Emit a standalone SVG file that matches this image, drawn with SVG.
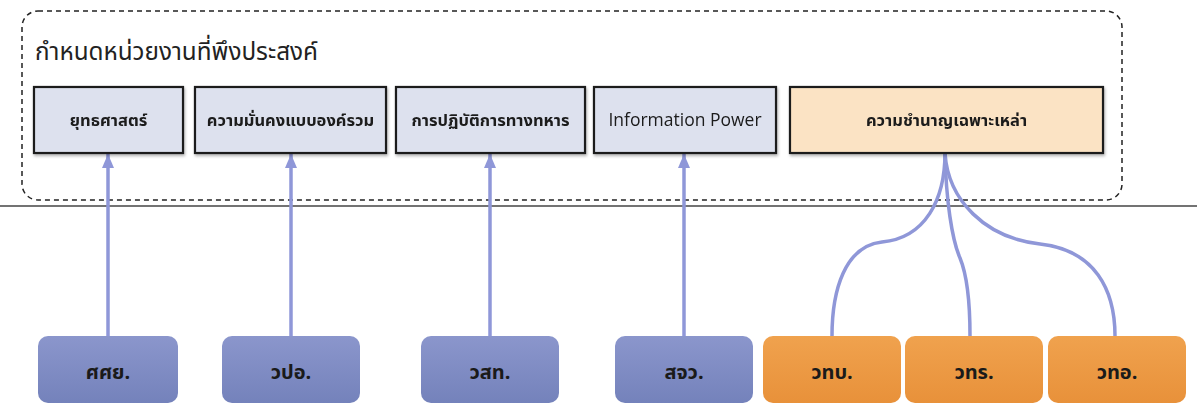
<svg xmlns="http://www.w3.org/2000/svg" width="1197" height="407" viewBox="0 0 1197 407">
<defs>
<style>
.th{font-family:"Noto Sans Thai","Noto Sans","DejaVu Sans",sans-serif;}
.top{stroke:#1e1e1e;stroke-width:2.2;}
.tb{fill:#dde1ee;}
.to{fill:#fbe3c4;}
.tl{font-size:16.5px;font-weight:bold;fill:#1a1a1a;text-anchor:middle;}
.bl{font-size:20px;font-weight:bold;fill:#1a1a1a;text-anchor:middle;}
.bb{fill:url(#gb);}
.bo{fill:url(#go);}
.conn{stroke:#8f97d8;stroke-width:3.5;fill:none;}
</style>
<linearGradient id="gb" x1="0" y1="0" x2="0" y2="1"><stop offset="0" stop-color="#8b96cc"/><stop offset="1" stop-color="#7482bb"/></linearGradient>
<linearGradient id="go" x1="0" y1="0" x2="0" y2="1"><stop offset="0" stop-color="#f0a24e"/><stop offset="1" stop-color="#e8913a"/></linearGradient>
<filter id="sh" x="-5%" y="-5%" width="110%" height="130%"><feDropShadow dx="1" dy="2" stdDeviation="1.5" flood-color="#000" flood-opacity="0.3"/></filter>
<marker id="ah" viewBox="0 0 14 12" refX="14" refY="6" markerWidth="14" markerHeight="12" markerUnits="userSpaceOnUse" orient="auto">
<path d="M0,0 L14,6 L0,12 Z" fill="#8f97d8"/>
</marker>
</defs>
<rect x="0" y="0" width="1197" height="407" fill="#fff"/>
<rect x="22" y="11" width="1100" height="189" rx="16" fill="none" stroke="#222" stroke-width="1.5" stroke-dasharray="5 4"/>
<line x1="0" y1="206" x2="1197" y2="206" stroke="#444" stroke-width="1.5"/>
<text class="th" x="35" y="60" font-size="25" fill="#222" textLength="283" lengthAdjust="spacingAndGlyphs">กำหนดหน่วยงานที่พึงประสงค์</text>

<g id="connectors">
<line class="conn" x1="108" y1="336" x2="108" y2="154" marker-end="url(#ah)"/>
<line class="conn" x1="291" y1="336" x2="291" y2="154" marker-end="url(#ah)"/>
<line class="conn" x1="490" y1="336" x2="490" y2="154" marker-end="url(#ah)"/>
<line class="conn" x1="684" y1="336" x2="684" y2="154" marker-end="url(#ah)"/>
<path class="conn" d="M945,153 C945,200 925,238 882,242 C845,246 832,290 832,336"/>
<path class="conn" d="M945,153 C946,200 952,240 960,258 C967,275 970,300 970,336"/>
<path class="conn" d="M945,153 C948,200 985,238 1040,244 C1095,250 1115,290 1115,336"/>
</g>

<g id="n-yut" filter="url(#sh)"><rect class="top tb" x="34" y="87" width="149" height="66"/><text class="th tl" x="108.5" y="126">ยุทธศาสตร์</text></g>
<g id="n-kwam" filter="url(#sh)"><rect class="top tb" x="195" y="87" width="191" height="66"/><text class="th tl" x="290.5" y="126">ความมั่นคงแบบองค์รวม</text></g>
<g id="n-kan" filter="url(#sh)"><rect class="top tb" x="396" y="87" width="189" height="66"/><text class="th tl" x="490.5" y="126">การปฏิบัติการทางทหาร</text></g>
<g id="n-info" filter="url(#sh)"><rect class="top tb" x="594" y="87" width="182" height="66"/><text x="685" y="126" font-family="'Open Sans','Noto Sans',sans-serif" font-size="17.5" fill="#1a1a1a" text-anchor="middle">Information Power</text></g>
<g id="n-cham" filter="url(#sh)"><rect class="top to" x="790" y="87" width="313" height="66"/><text class="th tl" x="946.5" y="126">ความชำนาญเฉพาะเหล่า</text></g>

<g id="b-sasy"><rect class="bb" x="38" y="336" width="140" height="67" rx="10"/><text class="th bl" x="108" y="379">ศศย.</text></g>
<g id="b-wpo"><rect class="bb" x="222" y="336" width="138" height="67" rx="10"/><text class="th bl" x="291" y="379">วปอ.</text></g>
<g id="b-wst"><rect class="bb" x="421" y="336" width="138" height="67" rx="10"/><text class="th bl" x="490" y="379">วสท.</text></g>
<g id="b-sjw"><rect class="bb" x="615" y="336" width="138" height="67" rx="10"/><text class="th bl" x="684" y="379">สจว.</text></g>
<g id="b-wtb"><rect class="bo" x="763" y="336" width="138" height="67" rx="10"/><text class="th bl" x="832" y="379">วทบ.</text></g>
<g id="b-wtr"><rect class="bo" x="905" y="336" width="138" height="67" rx="10"/><text class="th bl" x="974" y="379">วทร.</text></g>
<g id="b-wto"><rect class="bo" x="1048" y="336" width="138" height="67" rx="10"/><text class="th bl" x="1117" y="379">วทอ.</text></g>
</svg>
